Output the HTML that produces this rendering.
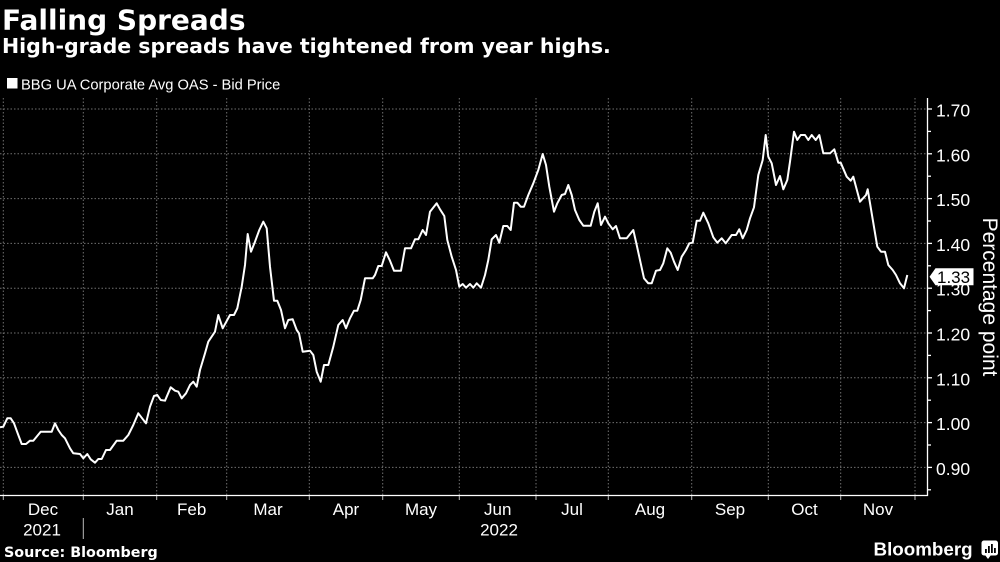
<!DOCTYPE html>
<html><head><meta charset="utf-8"><style>
html,body{margin:0;padding:0;background:#000;}
svg{display:block;}
</style></head><body>
<svg width="1000" height="562" viewBox="0 0 1000 562" xmlns="http://www.w3.org/2000/svg">
<rect x="0" y="0" width="1000" height="562" fill="#000"/>
<text x="2" y="29.5" font-family="DejaVu Sans, Liberation Sans, sans-serif" font-weight="bold" font-size="28" fill="#fff">Falling Spreads</text>
<text x="2" y="53" font-family="DejaVu Sans, Liberation Sans, sans-serif" font-weight="bold" font-size="20.5" fill="#fff">High-grade spreads have tightened from year highs.</text>
<rect x="7" y="78" width="10.5" height="10.5" fill="#fff"/>
<text x="21" y="89.3" font-family="Liberation Sans, sans-serif" font-size="14.7" fill="#fff">BBG UA Corporate Avg OAS - Bid Price</text>

<g stroke="#707070" stroke-width="1" stroke-dasharray="1.5,2" fill="none">
<line x1="0" y1="109" x2="927" y2="109"/>
<line x1="0" y1="153.8" x2="927" y2="153.8"/>
<line x1="0" y1="198.6" x2="927" y2="198.6"/>
<line x1="0" y1="243.4" x2="927" y2="243.4"/>
<line x1="0" y1="288.2" x2="927" y2="288.2"/>
<line x1="0" y1="333" x2="927" y2="333"/>
<line x1="0" y1="377.8" x2="927" y2="377.8"/>
<line x1="0" y1="422.6" x2="927" y2="422.6"/>
<line x1="0" y1="467.4" x2="927" y2="467.4"/>
<line x1="3.3" y1="98" x2="3.3" y2="495"/>
<line x1="83.3" y1="98" x2="83.3" y2="495"/>
<line x1="156.7" y1="98" x2="156.7" y2="495"/>
<line x1="226.7" y1="98" x2="226.7" y2="495"/>
<line x1="309.3" y1="98" x2="309.3" y2="495"/>
<line x1="382.7" y1="98" x2="382.7" y2="495"/>
<line x1="459.3" y1="98" x2="459.3" y2="495"/>
<line x1="536" y1="98" x2="536" y2="495"/>
<line x1="608.3" y1="98" x2="608.3" y2="495"/>
<line x1="691.7" y1="98" x2="691.7" y2="495"/>
<line x1="768.3" y1="98" x2="768.3" y2="495"/>
<line x1="840.7" y1="98" x2="840.7" y2="495"/>
<line x1="915" y1="98" x2="915" y2="495"/>
</g>

<g stroke="#fff" stroke-width="1.3" fill="none">
<line x1="0" y1="495.5" x2="928" y2="495.5"/>
<line x1="927.5" y1="98" x2="927.5" y2="496"/>
<line x1="927.5" y1="109" x2="932" y2="109"/>
<line x1="927.5" y1="131.4" x2="931" y2="131.4"/>
<line x1="927.5" y1="153.8" x2="932" y2="153.8"/>
<line x1="927.5" y1="176.2" x2="931" y2="176.2"/>
<line x1="927.5" y1="198.6" x2="932" y2="198.6"/>
<line x1="927.5" y1="221" x2="931" y2="221"/>
<line x1="927.5" y1="243.4" x2="932" y2="243.4"/>
<line x1="927.5" y1="265.8" x2="931" y2="265.8"/>
<line x1="927.5" y1="288.2" x2="932" y2="288.2"/>
<line x1="927.5" y1="310.6" x2="931" y2="310.6"/>
<line x1="927.5" y1="333" x2="932" y2="333"/>
<line x1="927.5" y1="355.4" x2="931" y2="355.4"/>
<line x1="927.5" y1="377.8" x2="932" y2="377.8"/>
<line x1="927.5" y1="400.2" x2="931" y2="400.2"/>
<line x1="927.5" y1="422.6" x2="932" y2="422.6"/>
<line x1="927.5" y1="445" x2="931" y2="445"/>
<line x1="927.5" y1="467.4" x2="932" y2="467.4"/>
<line x1="927.5" y1="489.8" x2="931" y2="489.8"/>
</g>
<g stroke="#bbb" stroke-width="1" fill="none">
<line x1="3.3" y1="496" x2="3.3" y2="500"/>
<line x1="83.3" y1="496" x2="83.3" y2="500"/>
<line x1="156.7" y1="496" x2="156.7" y2="500"/>
<line x1="226.7" y1="496" x2="226.7" y2="500"/>
<line x1="309.3" y1="496" x2="309.3" y2="500"/>
<line x1="382.7" y1="496" x2="382.7" y2="500"/>
<line x1="459.3" y1="496" x2="459.3" y2="500"/>
<line x1="536" y1="496" x2="536" y2="500"/>
<line x1="608.3" y1="496" x2="608.3" y2="500"/>
<line x1="691.7" y1="496" x2="691.7" y2="500"/>
<line x1="768.3" y1="496" x2="768.3" y2="500"/>
<line x1="840.7" y1="496" x2="840.7" y2="500"/>
<line x1="915" y1="496" x2="915" y2="500"/>
<line x1="83.3" y1="518" x2="83.3" y2="539"/>
</g>

<g font-family="Liberation Sans, sans-serif" font-size="17.5" fill="#fff">
<text x="936" y="116.5">1.70</text>
<text x="936" y="161.3">1.60</text>
<text x="936" y="206.1">1.50</text>
<text x="936" y="250.9">1.40</text>
<text x="936" y="295.7">1.30</text>
<text x="936" y="340.5">1.20</text>
<text x="936" y="385.3">1.10</text>
<text x="936" y="430.1">1.00</text>
<text x="936" y="474.9">0.90</text>
</g>

<g font-family="Liberation Sans, sans-serif" font-size="17" fill="#fff" text-anchor="middle">
<text x="43" y="515">Dec</text>
<text x="120" y="515">Jan</text>
<text x="191.7" y="515">Feb</text>
<text x="268" y="515">Mar</text>
<text x="346" y="515">Apr</text>
<text x="421" y="515">May</text>
<text x="497.7" y="515">Jun</text>
<text x="572" y="515">Jul</text>
<text x="650" y="515">Aug</text>
<text x="730" y="515">Sep</text>
<text x="804.5" y="515">Oct</text>
<text x="878" y="515">Nov</text>
<text x="42" y="535.7">2021</text>
<text x="499" y="535.7">2022</text>
</g>

<polyline fill="none" stroke="#fff" stroke-width="2" stroke-linejoin="round" points="0,427.3 3.3,426.7 7.3,418.3 10.7,418.3 14,423.3 18.3,435 21.7,444 26,444 30,440.7 33.3,440.7 40.7,431.7 51.7,431.7 55,423.3 58.3,430 61.7,435 65,438.3 70,448.3 73.3,453.3 80,454 83.3,458.3 87.3,454 90.7,459.3 95,462.7 98.3,459 101.7,459 106,450 110,450 116.7,440.7 123.3,440.7 128.3,435 133.3,425 138.3,413.3 146,423.3 150,406.7 154,396 157.3,395 160.7,400 165,400.7 170.7,387.3 175,390.7 178.3,391.7 181.7,398.3 186,393.3 190,385 193.3,381.7 196.7,386.7 200,370 205,353.3 208.3,341.7 215,331.7 218.3,315 222.7,328.3 230,315 234,315 237.3,308.3 241.7,286.7 245,265 247.7,234 251,251.7 255,241.7 259.3,230 263.3,221.7 266.7,228.3 270,266.7 274,300.7 277.3,300.7 281,310 285,328.3 288.3,320 292.7,319.3 296.7,330 299,333.3 302.7,351.7 310,350.7 313.3,355 316.7,371.7 320.7,381.7 324,365 328.3,365 333.3,346.7 338.3,325 342.7,320 346,328.3 350,318.3 354,310.7 357.3,310.7 360.7,300 365,278.3 372.7,278.3 375,275 378.3,266 381.7,266 386,252.3 390,260.7 394,270.7 401,270.7 405,248.3 411,248.3 415,239.3 418.3,239.3 422.7,230 426,235 430,211.7 436.7,203.3 440,209.3 444.3,216 447.3,240 451.7,256.7 456,270 459.3,286.7 462.7,284 466,287.7 470,284 473.3,287.7 476.7,283.3 481,287.7 485,275 488.3,260 491.7,239.3 496,235 499.3,242.7 503.3,226 507.3,226 510.7,230 514,202.7 517.3,202.7 520.7,206.7 524,206.7 528.3,195 533.3,183.3 538.3,170 542.7,154 546,165 549.3,186.7 554,211.7 557.3,203.3 561.7,195 565,194 568.3,185 571.7,195 575,210 579.3,220 583.3,225.7 590.7,225.7 594.3,211.7 597.7,203.3 601,225 605,216.7 608.3,223.3 612.7,229.3 616,226 620,238.3 626.7,238.3 633.3,230 636.7,245 640.7,263.3 644,278.3 648.3,283.3 651.7,283.3 656,270.7 660,270 663.3,263.3 667.3,248.3 670.7,252.7 674,261.7 677.7,270 681.7,256.7 686,250 689.3,243.3 692.7,242.7 696.7,220.7 700,220.7 703.3,212.7 708.3,223.3 713.3,237.3 717.3,242.7 721.7,238.3 725.7,243.3 731.7,235 736,235 739.3,229.3 742.7,238.3 746.7,230 750,218.3 754,207.3 758.3,175 762.7,160 765.7,135 768.3,156.7 771.7,163.3 776,185 780,176 783.3,189.3 787.3,180 790,161.7 794,131.7 797.3,140 800.7,135 805,135 808.3,140 811.7,135 815.7,140 819.3,135 823.3,153.3 830,153.3 834.3,149.3 838.3,162.7 840.7,162.7 846.7,176.7 850.7,180.7 853.3,176.7 860,201.7 866,195 867.7,189.3 871.7,213.3 877.3,246.7 881,251.7 885,251.7 888.3,265 892.7,270 896,275 900,283.3 904,288.3 907.3,275"/>

<path d="M929.5,276.7 L935.5,268.3 L973.5,268.3 L973.5,285.2 L935.5,285.2 Z" fill="#fff"/>
<text x="937" y="283" font-family="Liberation Sans, sans-serif" font-size="17" fill="#000">1.33</text>

<text x="983" y="297" transform="rotate(90 983 297)" text-anchor="middle" font-family="Liberation Sans, sans-serif" font-size="21" fill="#fff">Percentage point</text>

<text x="4" y="557" font-family="DejaVu Sans, Liberation Sans, sans-serif" font-weight="bold" font-size="14.3" fill="#fff">Source: Bloomberg</text>
<text x="873.5" y="555.7" font-family="Liberation Sans, sans-serif" font-weight="bold" font-size="18.8" fill="#fff">Bloomberg</text>
<g>
<rect x="981.5" y="540.5" width="16.5" height="15" rx="2.5" fill="#fff"/>
<path d="M985,555 L988,559 L991,555 Z" fill="#fff"/>
<rect x="985" y="549" width="1.8" height="4" fill="#000"/>
<rect x="988" y="546" width="1.8" height="7" fill="#000"/>
<rect x="991" y="544" width="1.8" height="9" fill="#000"/>
<rect x="994" y="548" width="1.8" height="5" fill="#000"/>
</g>
</svg>
</body></html>
